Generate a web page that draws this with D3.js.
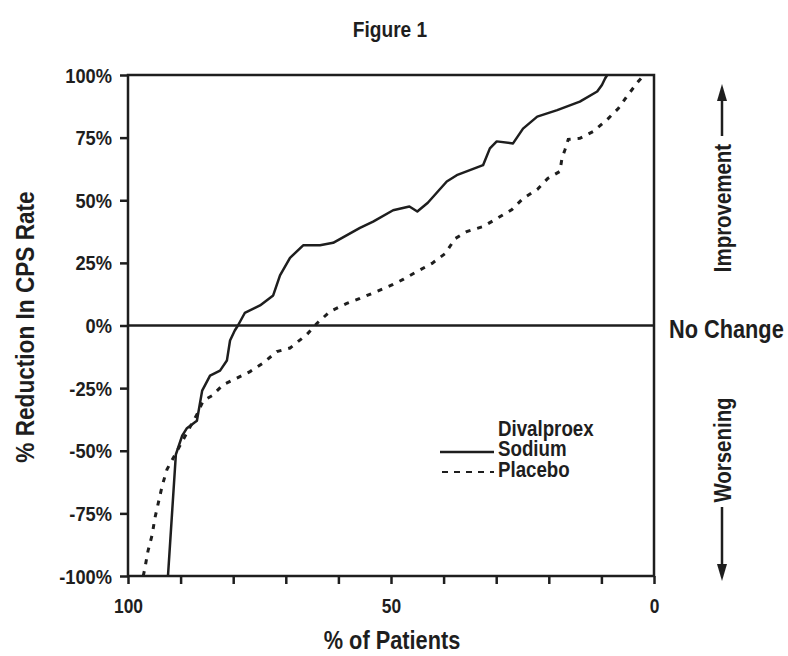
<!DOCTYPE html>
<html>
<head>
<meta charset="utf-8">
<script src="https://cdn.jsdelivr.net/npm/d3@7"></script>
<style>
  body { margin: 0; background: #fff; }
  text { font-family: "Liberation Sans", Arial, sans-serif; font-weight: bold; fill: #1e1e1e; }
</style>
</head>
<body>
<div id="chart"></div>
<script>
const width = 788, height = 656;
const ink = '#1e1e1e';
const SX = 0.87; // horizontal squeeze to mimic a condensed face

// % of patients (x) and % reduction in CPS rate (y)
const divalproexX = [92.4, 90.9, 89.7, 88.8, 86.9, 85.9, 84.4, 82.5, 81.2, 80.6, 79.7, 79.1, 77.8, 74.9, 72.4, 71.1, 69.2, 66.7, 63.5, 61.0, 55.9, 53.4, 49.6, 46.5, 45.0, 43.0, 39.4, 37.5, 32.5, 31.2, 29.9, 26.8, 24.9, 22.2, 18.4, 14.1, 10.8, 9.9, 9.3, 8.9];
const divalproexY = [-100, -51.5, -44, -41, -38, -26, -20, -18, -14, -6, -2, 0, 5, 8, 12, 20, 27, 32, 32, 33, 39, 41.5, 46, 47.5, 45.5, 49, 57.5, 60, 64, 70.7, 73.5, 72.7, 78.6, 83.4, 86, 89.4, 93.4, 96, 98.6, 100];

const placeboX = [97.1, 96.8, 96.2, 95.4, 94.9, 93.5, 92.6, 86.9, 85.7, 84.0, 81.9, 79.3, 76.8, 74.3, 71.7, 69.2, 66.0, 64.1, 61.6, 58.4, 55.9, 52.7, 49.6, 47.7, 45.0, 42.2, 39.7, 37.8, 35.6, 32.5, 30.2, 27.0, 24.9, 22.2, 20.2, 17.9, 17.5, 16.9, 16.3, 14.1, 11.6, 8.9, 6.8, 4.9, 3.0, 1.9];
const placeboY = [-100, -97, -90, -83.5, -77, -64, -57.5, -35.5, -30, -28, -23.6, -21, -18.4, -15, -10.4, -9, -3.6, 0.8, 5.6, 8.8, 10.8, 13.6, 16.4, 18.4, 21.6, 24.8, 28.7, 34.7, 37.5, 39.5, 42.3, 46.3, 50.7, 54.3, 58.7, 61.5, 66.7, 70.3, 74.3, 74.7, 77.4, 82.2, 86.6, 92.2, 97.4, 100];

const yTicks = [100, 75, 50, 25, 0, -25, -50, -75, -100];
const xTicks = [100, 90, 80, 70, 60, 50, 40, 30, 20, 10, 0];
const xTickLabels = [100, 50, 0];

const plotLeft = 128, plotRight = 654, plotTop = 75, plotBottom = 576;

const svg = d3.select('#chart')
    .append('svg')
      .attr('width', width)
      .attr('height', height);

const x = d3.scaleLinear().domain([100, 0]).range([plotLeft, plotRight]);
const y = d3.scaleLinear().domain([-100, 100]).range([plotBottom, plotTop]);

// condensed-looking label helper
function label(px, py, txt, size, anchor, rot) {
    return svg.append('text')
        .attr('transform', `translate(${px},${py}) rotate(${rot || 0}) scale(${SX},1)`)
        .attr('text-anchor', anchor || 'start')
        .attr('font-size', size)
        .text(txt);
}

// frame
svg.append('rect')
    .attr('x', plotLeft).attr('y', plotTop)
    .attr('width', plotRight - plotLeft).attr('height', plotBottom - plotTop)
    .attr('fill', 'none').attr('stroke', ink).attr('stroke-width', 2.5);

// zero line
svg.append('line')
    .attr('x1', plotLeft).attr('x2', plotRight)
    .attr('y1', y(0)).attr('y2', y(0))
    .attr('stroke', ink).attr('stroke-width', 2.5);

// y axis
const yAxis = svg.append('g')
    .attr('transform', `translate(${plotLeft},0)`)
    .call(d3.axisLeft(y).tickValues(yTicks).tickSize(8).tickFormat(d => d + '%'));
yAxis.select('.domain').remove();
yAxis.selectAll('line').attr('stroke', ink).attr('stroke-width', 2.5);
yAxis.selectAll('text')
    .attr('x', null).attr('dy', null)
    .attr('transform', `translate(-16,7) scale(${SX},1)`)
    .attr('font-size', 21).attr('fill', ink);

// x axis
const xAxis = svg.append('g')
    .attr('transform', `translate(0,${plotBottom})`)
    .call(d3.axisBottom(x).tickValues(xTicks).tickSize(8)
        .tickFormat(d => xTickLabels.includes(d) ? d : ''));
xAxis.select('.domain').remove();
xAxis.selectAll('line').attr('stroke', ink).attr('stroke-width', 2.5);
xAxis.selectAll('text')
    .attr('y', null).attr('dy', null)
    .attr('transform', `translate(0,37) scale(${SX},1)`)
    .attr('font-size', 20).attr('fill', ink);

const line = d3.line().x(d => x(d[0])).y(d => y(d[1]));

svg.append('path')
    .datum(d3.zip(placeboX, placeboY))
    .attr('d', line)
    .attr('fill', 'none').attr('stroke', ink)
    .attr('stroke-width', 3).attr('stroke-dasharray', '5,7');

svg.append('path')
    .datum(d3.zip(divalproexX, divalproexY))
    .attr('d', line)
    .attr('fill', 'none').attr('stroke', ink)
    .attr('stroke-width', 2.5).attr('stroke-linejoin', 'round');

// titles
label(390, 37, 'Figure 1', 22, 'middle');
label(34, 327, '% Reduction In CPS Rate', 26, 'middle', -90);
label(392, 649, '% of Patients', 25, 'middle');
label(669, 338, 'No Change', 25, 'start');

// right-hand annotations
label(731, 208, 'Improvement', 23.5, 'middle', -90);
label(731, 450, 'Worsening', 23.5, 'middle', -90);

const arrowX = 722;
svg.append('line')
    .attr('x1', arrowX).attr('x2', arrowX).attr('y1', 136).attr('y2', 98)
    .attr('stroke', ink).attr('stroke-width', 2.5);
svg.append('path')
    .attr('d', `M${arrowX},84 L${arrowX - 5},101 L${arrowX + 5},101 Z`)
    .attr('fill', ink);

svg.append('line')
    .attr('x1', arrowX).attr('x2', arrowX).attr('y1', 507).attr('y2', 567)
    .attr('stroke', ink).attr('stroke-width', 2.5);
svg.append('path')
    .attr('d', `M${arrowX},581 L${arrowX - 5},564 L${arrowX + 5},564 Z`)
    .attr('fill', ink);

// legend
label(498, 436, 'Divalproex', 21.5, 'start');
label(498, 456, 'Sodium', 21.5, 'start');
label(498, 477, 'Placebo', 21.5, 'start');
svg.append('line')
    .attr('x1', 440).attr('x2', 494).attr('y1', 452).attr('y2', 452)
    .attr('stroke', ink).attr('stroke-width', 2.5);
svg.append('line')
    .attr('x1', 442).attr('x2', 494).attr('y1', 472).attr('y2', 472)
    .attr('stroke', ink).attr('stroke-width', 2).attr('stroke-dasharray', '6,6');
</script>
</body>
</html>
